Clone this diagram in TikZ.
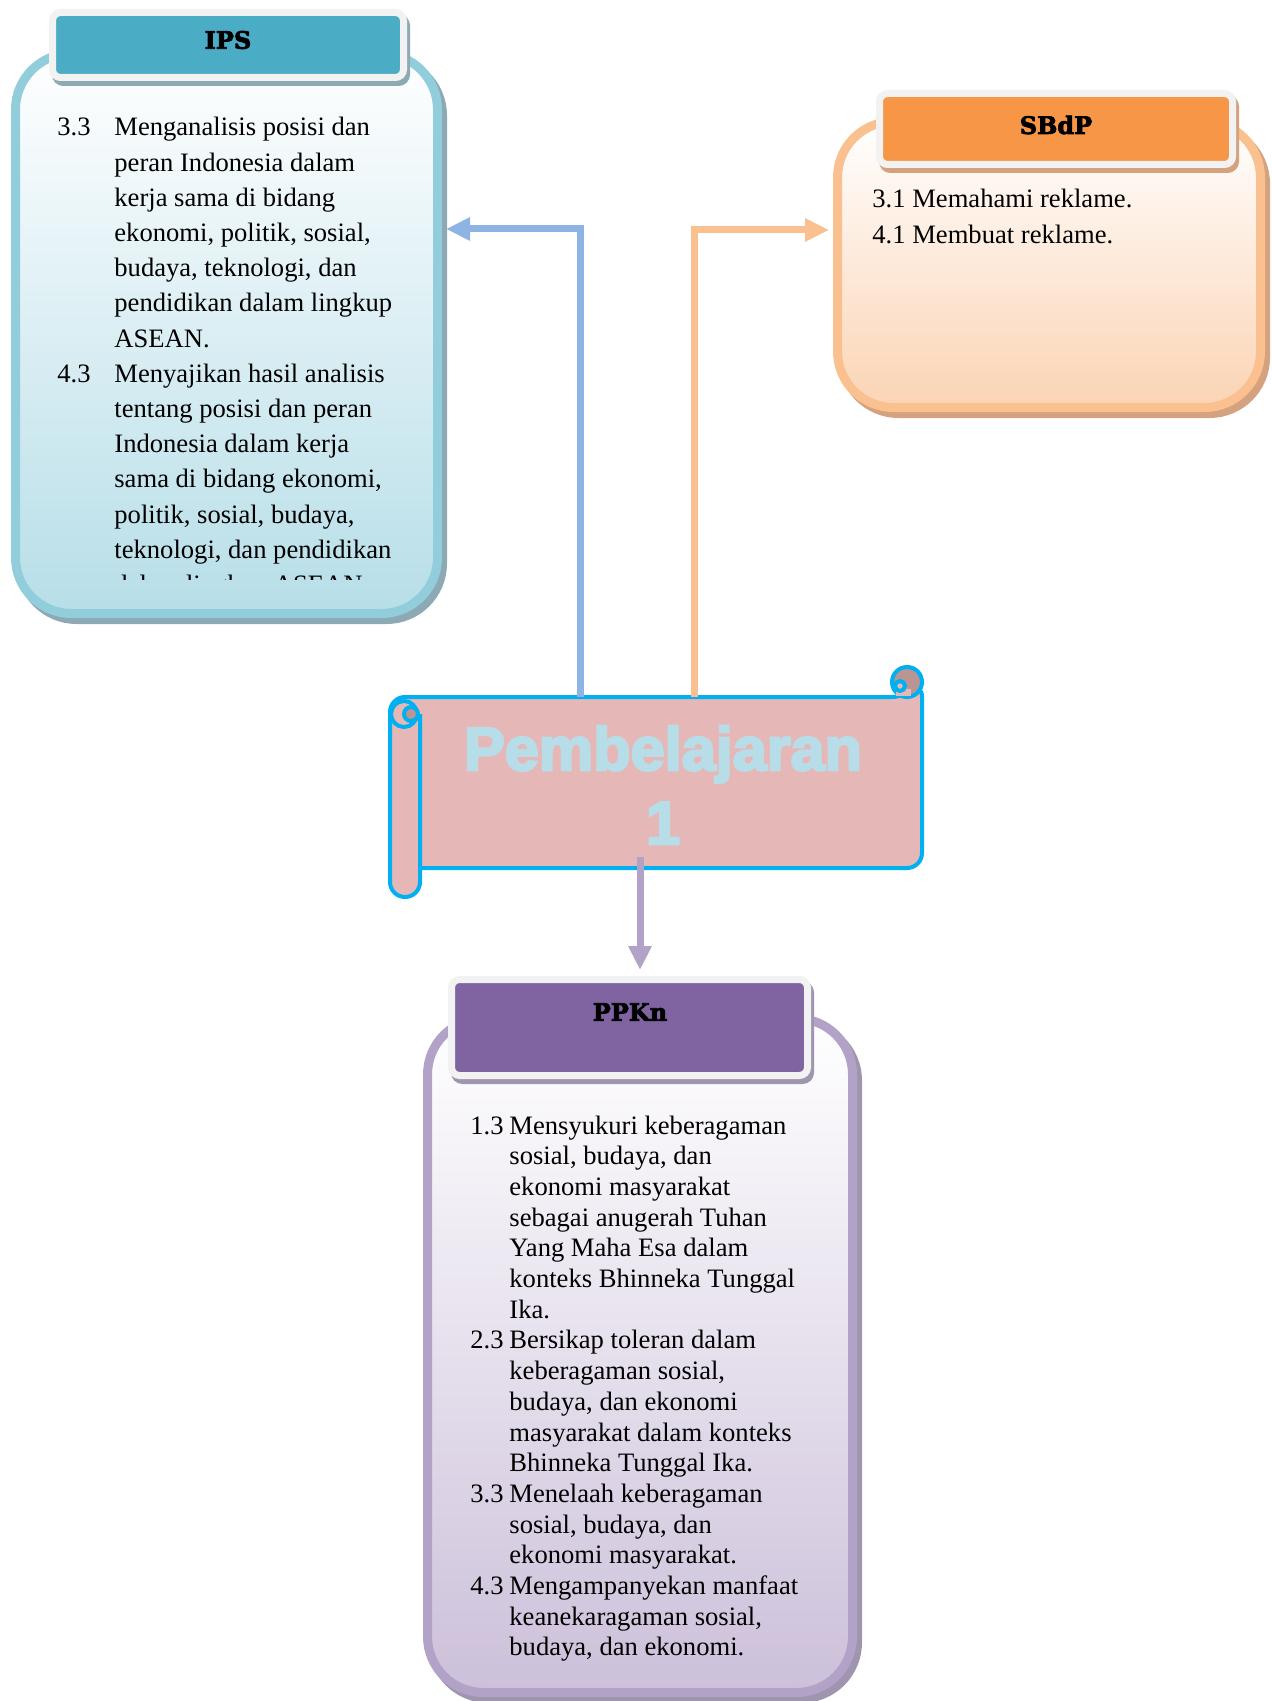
\documentclass[tikz,border=0pt]{standalone}
\usepackage{fontspec}
\setmainfont{Liberation Serif}
\newfontfamily\headfont{DejaVu Serif}[BoldFeatures={FakeBold=3}]
\newfontfamily\scrollfont{Liberation Sans}[BoldFeatures={FakeBold=4}]
\usetikzlibrary{arrows.meta,shadows}

\definecolor{ipshead}{HTML}{4BACC6}
\definecolor{ipsline}{HTML}{92CDDC}
\definecolor{ipsfill}{HTML}{B7DEE8}
\definecolor{ipsshade}{HTML}{8DA9B4}
\definecolor{sbdphead}{HTML}{F79646}
\definecolor{sbdpline}{HTML}{FAC090}
\definecolor{sbdpfill}{HTML}{FBD4B4}
\definecolor{sbdpshade}{HTML}{D4A27F}
\definecolor{ppknhead}{HTML}{8064A2}
\definecolor{ppknline}{HTML}{B3A2C7}
\definecolor{ppknfill}{HTML}{CCC0DA}
\definecolor{ppknshade}{HTML}{A095AE}
\definecolor{framecol}{HTML}{F2F2F2}
\definecolor{scrollfill}{HTML}{E5B8B7}
\definecolor{scrollline}{HTML}{00B0F0}
\definecolor{scrollback}{HTML}{B99594}
\definecolor{titlecol}{HTML}{B6DDE8}
\definecolor{bluearrow}{HTML}{8EB4E3}

\begin{document}
\begin{tikzpicture}[x=0.5pt,y=-0.5pt,
  box/.style={draw, line width=4.5pt, rounded corners=28pt, top color=white, inner sep=0pt},
  head/.style={draw=framecol, line width=3.5pt, rounded corners=4pt, inner sep=0pt},
  title/.style={font=\headfont\bfseries\fontsize{12}{14}\selectfont, inner sep=0pt},
  list/.style={anchor=base west, inner sep=0pt, align=left},
  link/.style={line width=3.5pt, -{Triangle[length=12pt,width=11pt]}},
  scroll/.style={draw=scrollline, line width=2pt, fill=scrollfill}]

\useasboundingbox (0,0) rectangle (1272,1701);

\node[box, draw=ipsline, bottom color=ipsfill, minimum width=211pt, minimum height=280pt,
  drop shadow={shadow xshift=2.5pt, shadow yshift=-3pt, fill=ipsshade, draw=ipsshade, line width=4.5pt, opacity=1}] (ips) at (226.5,333.5) {};
\node[box, draw=sbdpline, bottom color=sbdpfill, minimum width=211.5pt, minimum height=143pt,
  drop shadow={shadow xshift=2.5pt, shadow yshift=-3pt, fill=sbdpshade, draw=sbdpshade, line width=4.5pt, opacity=1}] (sbdp) at (1049,264.5) {};
\node[box, draw=ppknline, bottom color=ppknfill, minimum width=212.5pt, minimum height=337pt,
  drop shadow={shadow xshift=2.5pt, shadow yshift=-3pt, fill=ppknshade, draw=ppknshade, line width=4.5pt, opacity=1}] (ppkn) at (640,1355.5) {};

\node[head, fill=ipshead, minimum width=175.5pt, minimum height=32.5pt,
  drop shadow={shadow xshift=1.5pt, shadow yshift=-2.5pt, fill=ipsshade, draw=ipsshade, line width=3.5pt, opacity=1}] (ipshead) at (228,45) {};
\node[head, fill=sbdphead, minimum width=176.5pt, minimum height=35.5pt,
  drop shadow={shadow xshift=1.5pt, shadow yshift=-2.5pt, fill=sbdpshade, draw=sbdpshade, line width=3.5pt, opacity=1}] (sbdphead) at (1056,129) {};
\node[head, fill=ppknhead, minimum width=178pt, minimum height=48pt,
  drop shadow={shadow xshift=1.5pt, shadow yshift=-2.5pt, fill=ppknshade, draw=ppknshade, line width=3.5pt, opacity=1}] (ppknhead) at (629.5,1027.5) {};

\node[title] (ipsname) at (228,40) {IPS};
\node[title] (sbdpname) at (1056,125) {SBdP};
\node[title] (ppknname) at (630,1012) {PPKn};

\begin{scope}
\clip (0,0) rectangle (1272,579);
\node[list, font=\fontsize{13.3}{17.6}\selectfont] (ipstext) at (57,136) {%
\begin{tabular}[t]{@{}p{28.5pt}@{}l@{}}
3.3 & Menganalisis posisi dan\\
    & peran Indonesia dalam\\
    & kerja sama di bidang\\
    & ekonomi, politik, sosial,\\
    & budaya, teknologi, dan\\
    & pendidikan dalam lingkup\\
    & ASEAN.\\
4.3 & Menyajikan hasil analisis\\
    & tentang posisi dan peran\\
    & Indonesia dalam kerja\\
    & sama di bidang ekonomi,\\
    & politik, sosial, budaya,\\
    & teknologi, dan pendidikan\\
    & dalam lingkup ASEAN.
\end{tabular}};
\end{scope}

\node[list, font=\fontsize{13.3}{18}\selectfont] (sbdptext) at (872,208) {%
\begin{tabular}[t]{@{}l@{}}
3.1 Memahami reklame.\\
4.1 Membuat reklame.
\end{tabular}};

\node[list, font=\fontsize{13.3}{15.35}\selectfont] (ppkntext) at (470,1134) {%
\begin{tabular}[t]{@{}p{19.5pt}@{}l@{}}
1.3 & Mensyukuri keberagaman\\
    & sosial, budaya, dan\\
    & ekonomi masyarakat\\
    & sebagai anugerah Tuhan\\
    & Yang Maha Esa dalam\\
    & konteks Bhinneka Tunggal\\
    & Ika.\\
2.3 & Bersikap toleran dalam\\
    & keberagaman sosial,\\
    & budaya, dan ekonomi\\
    & masyarakat dalam konteks\\
    & Bhinneka Tunggal Ika.\\
3.3 & Menelaah keberagaman\\
    & sosial, budaya, dan\\
    & ekonomi masyarakat.\\
4.3 & Mengampanyekan manfaat\\
    & keanekaragaman sosial,\\
    & budaya, dan ekonomi.
\end{tabular}};

\draw[scroll, rounded corners=7.5pt] (390,868) -- (390,697) -- (907,697) -- (922,682) -- (922,868) -- cycle;
\draw[scroll, fill=scrollback] (907,682) circle[radius=7.5pt];
\fill[scrollfill] (896,689) rectangle (911,696);
\draw[scroll] (900,686) circle[radius=2.5pt];
\draw[scroll, rounded corners=7.5pt] (420,714) -- (420,897) -- (390,897) -- (390,714);
\draw[scroll] (404,714) circle[radius=6.5pt];
\draw[scroll, fill=scrollback] (411,714) circle[radius=3.5pt];

\node[font=\scrollfont\bfseries\fontsize{30.6}{37}\selectfont, text=titlecol, align=center, minimum height=88pt, inner sep=0pt] (pb) at (663,785) {Pembelajaran\\1};

\coordinate (ipsturn) at (580,229);
\coordinate (sbdpturn) at (694,230);
\draw[link, bluearrow, shorten >=2pt] (pb.north -| ipsturn) -- (ipsturn) -- (ipsturn -| ips.east);
\draw[link, sbdpline, shorten >=2pt] (pb.north -| sbdpturn) -- (sbdpturn) -- (sbdpturn -| sbdp.west);
\draw[link, ppknline] ([yshift=8pt]pb.south -| ppkn.north) -- ([yshift=3pt]ppknhead.north -| ppkn.north);

\end{tikzpicture}
\end{document}
